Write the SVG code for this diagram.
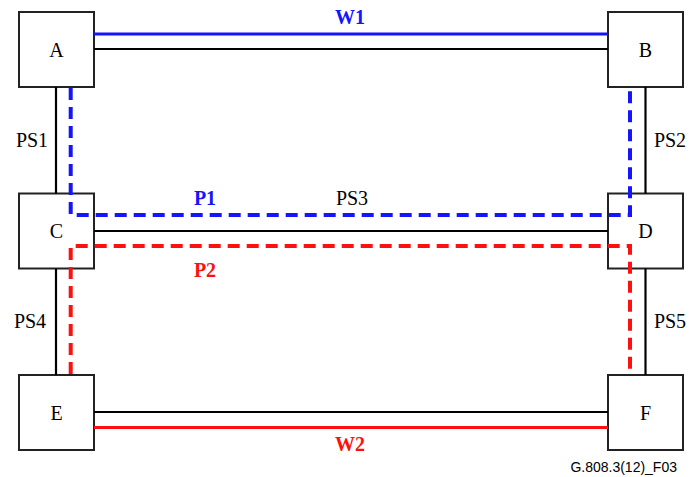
<svg xmlns="http://www.w3.org/2000/svg" width="692" height="477" viewBox="0 0 692 477">
<style>
.box{fill:#fff;stroke:#222;stroke-width:2}
.lbl{font-family:"Liberation Serif","Times New Roman","DejaVu Serif",serif;font-size:20px;fill:#000;text-anchor:middle}
.blk{stroke:#000;stroke-width:2.2;fill:none}
.bs{stroke:#1414ff;stroke-width:3;fill:none}
.rs{stroke:#ff0f0f;stroke-width:3;fill:none}
.bd{stroke:#1414ff;stroke-width:4;fill:none;stroke-dasharray:12 7}
.rd{stroke:#ff0f0f;stroke-width:4;fill:none;stroke-dasharray:12 7}
.bt{font-family:"Liberation Serif","Times New Roman",serif;font-size:20px;font-weight:bold;fill:#1414ff;text-anchor:middle}
.rt{font-family:"Liberation Serif","Times New Roman",serif;font-size:20px;font-weight:bold;fill:#ff0f0f;text-anchor:middle}
</style>
<g id="A"><rect class="box" x="19" y="12" width="75" height="75"/><text class="lbl" x="56.5" y="57">A</text></g>
<g id="B"><rect class="box" x="608" y="12" width="75" height="75"/><text class="lbl" x="645.5" y="57">B</text></g>
<g id="C"><rect class="box" x="19" y="193.5" width="75" height="75"/><text class="lbl" x="56.5" y="238">C</text></g>
<g id="D"><rect class="box" x="608" y="193.5" width="75" height="75"/><text class="lbl" x="645.5" y="238">D</text></g>
<g id="E"><rect class="box" x="19" y="375" width="75" height="75"/><text class="lbl" x="56.5" y="420">E</text></g>
<g id="F"><rect class="box" x="608" y="375" width="75" height="75"/><text class="lbl" x="645.5" y="420">F</text></g>
<g id="connectors">
<line class="bs" x1="94" y1="34" x2="608" y2="34"/>
<line class="blk" x1="94" y1="49" x2="608" y2="49"/>
<line class="blk" x1="56" y1="87" x2="56" y2="193.5"/>
<line class="blk" x1="645.5" y1="87" x2="645.5" y2="193.5"/>
<line class="blk" x1="94" y1="231" x2="608" y2="231"/>
<line class="blk" x1="56" y1="268.5" x2="56" y2="375"/>
<line class="blk" x1="645.5" y1="268.5" x2="645.5" y2="375"/>
<line class="blk" x1="94" y1="412" x2="608" y2="412"/>
<line class="rs" x1="94" y1="427.5" x2="608" y2="427.5"/>
<path class="bd" d="M70.7,88 V215 H630 V88"/>
<path class="rd" d="M70.7,374 V246 H630 V374"/>
<text class="bt" x="350" y="24">W1</text>
<text class="bt" x="205" y="205">P1</text>
<text class="lbl" x="352" y="205">PS3</text>
<text class="rt" x="205" y="277">P2</text>
<text class="rt" x="350" y="451">W2</text>
<text class="lbl" x="32" y="147">PS1</text>
<text class="lbl" x="670" y="147">PS2</text>
<text class="lbl" x="30" y="328">PS4</text>
<text class="lbl" x="670" y="328">PS5</text>
</g>
<text x="677" y="472" font-family="Liberation Sans, Arial, sans-serif" font-size="14" text-anchor="end" fill="#000">G.808.3(12)_F03</text>
</svg>
